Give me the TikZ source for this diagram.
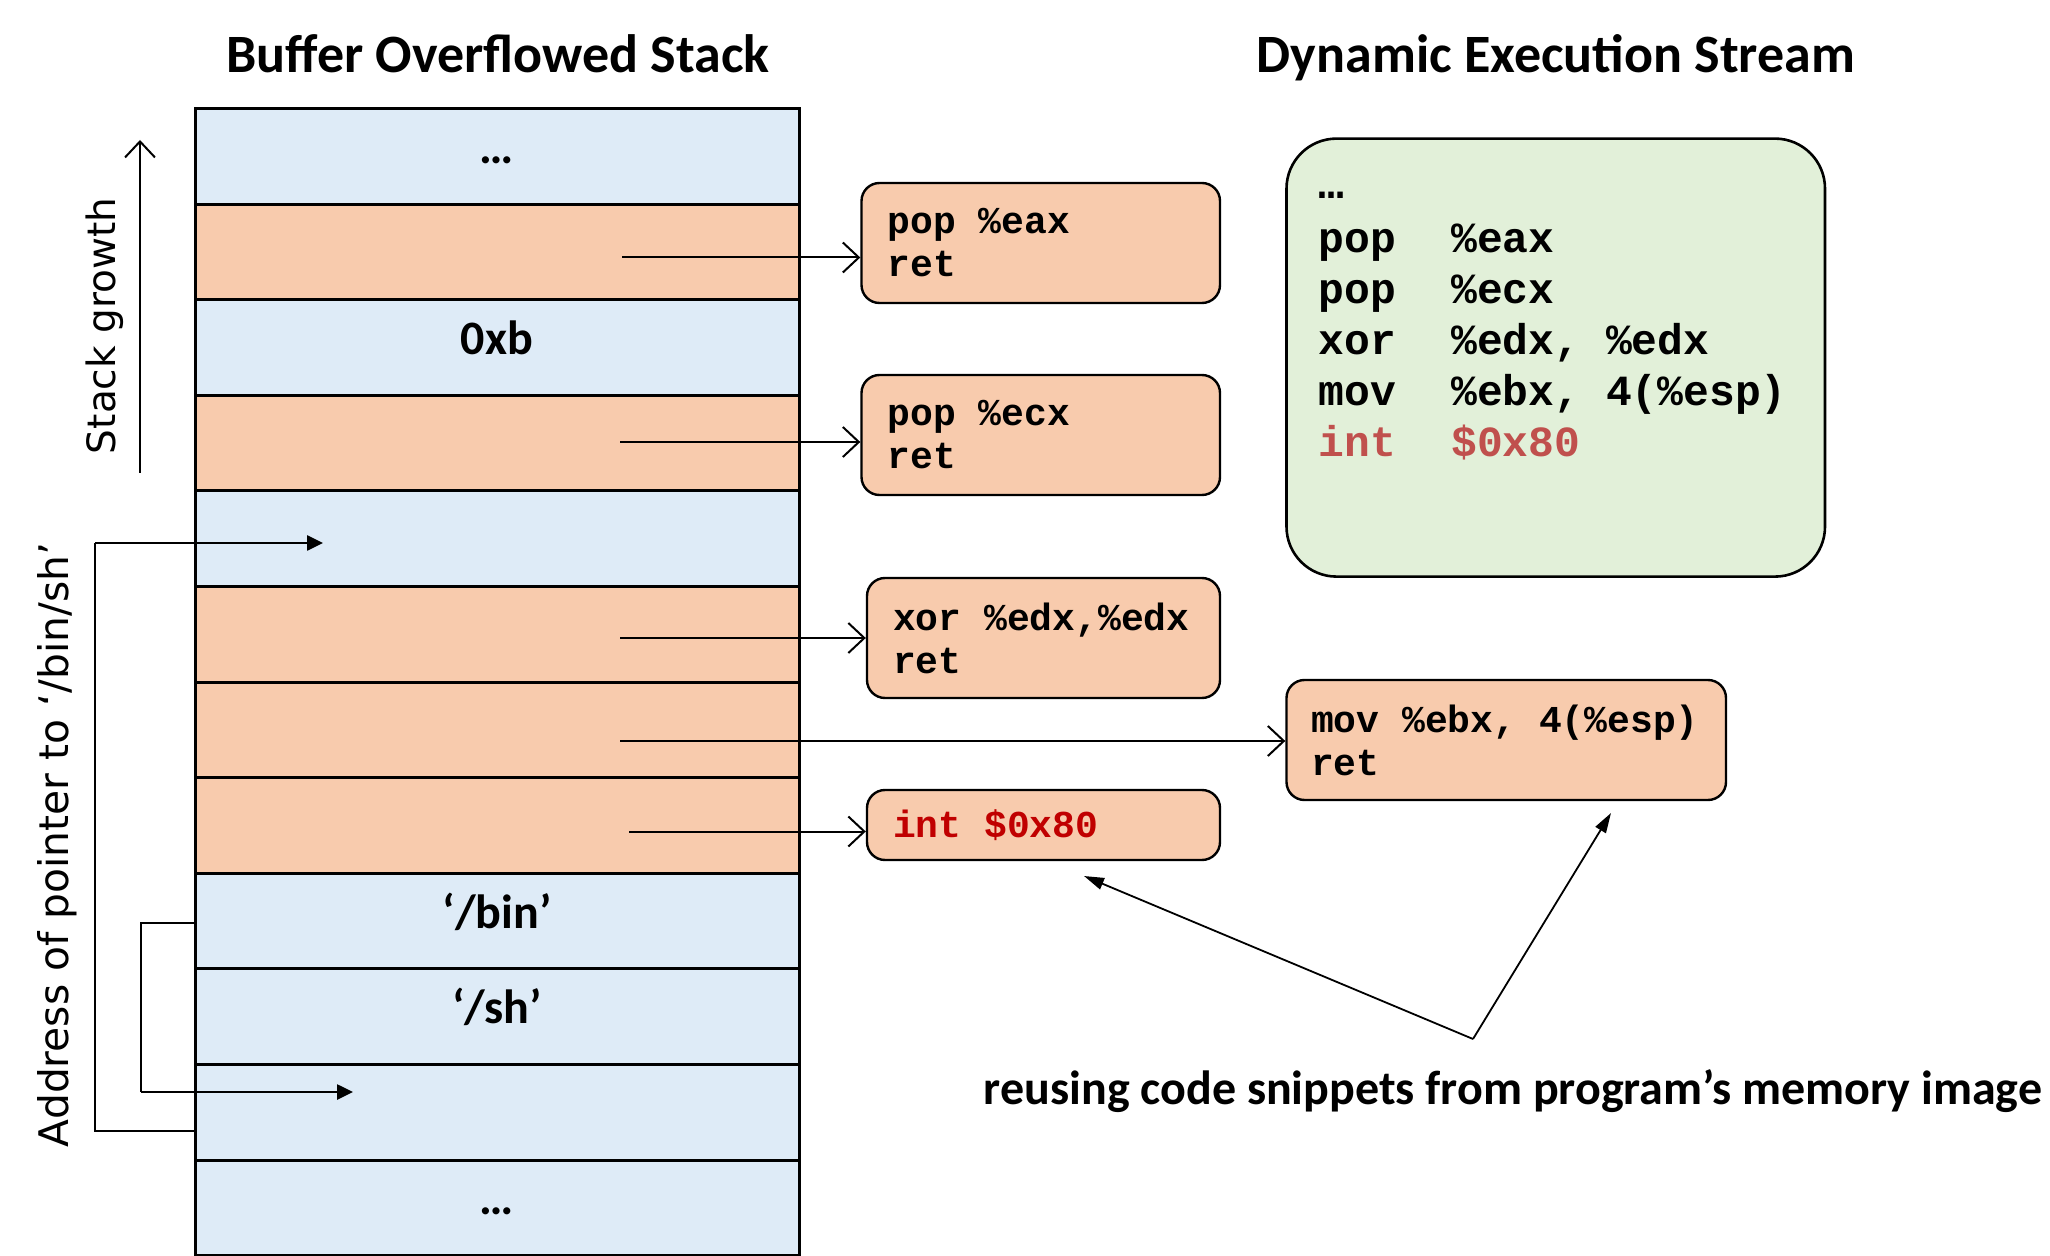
\documentclass[tikz,border=0pt]{standalone}
\usepackage{fontspec}
\setmainfont{Carlito}
\newfontfamily\monof{Liberation Mono}
\newfontfamily\verdf{DejaVu Sans}
\usetikzlibrary{arrows.meta}
\definecolor{stkblue}{HTML}{DEEBF7}
\definecolor{stkorange}{HTML}{F8CBAD}
\definecolor{stkgreen}{HTML}{E2F0D9}
\definecolor{redA}{HTML}{C00000}
\definecolor{redB}{HTML}{C0504D}
\newcommand\msp{\hspace{0.6em}}
\newcommand\mnem[1]{\makebox[66.5pt][l]{#1}}
\tikzset{
  cell/.style={draw, line width=1.5pt, minimum width=302pt, minimum height=47.8pt, inner sep=0pt,
    text height=12pt, text depth=5pt, font=\bfseries\fontsize{24}{28}\selectfont},
  gadget/.style={draw, fill=stkorange, rounded corners=9pt, line width=1.2pt, align=left,
    inner xsep=13pt, inner ysep=0pt, font=\monof\bfseries\fontsize{19}{21.5}\selectfont},
  greenbox/.style={draw, fill=stkgreen, rounded corners=25pt, line width=1.3pt,
    minimum width=269.25pt, minimum height=219pt},
  codeline/.style={anchor=west, inner sep=0pt, text height=15pt, text depth=4.5pt,
    font=\monof\bfseries\fontsize{21.5}{25}\selectfont},
  title/.style={anchor=base, font=\bfseries\fontsize{27}{32}\selectfont},
  sidelabel/.style={font=\verdf\fontsize{19.5}{23}\selectfont, rotate=90},
  barb/.style={line width=1pt, -{Straight Barb[length=8pt,width=15pt]}},
  thinline/.style={line width=0.7pt},
  ptrarrow/.style={line width=1.3pt, -{Triangle[length=8pt,width=7.5pt]}},
  callout/.style={line width=0.9pt, -{Triangle[length=10pt,width=6pt]}}
}
\begin{document}
\begin{tikzpicture}[x=0.5pt,y=-0.5pt]
\useasboundingbox (0,0) rectangle (2050,1256);

% titles
\node[title] (t1) at (498,73) {Buffer Overflowed Stack};
\node[title] (t2) at (1556,73) {Dynamic Execution Stream};

% stack
\foreach \i/\c/\t in {0/stkblue/{\ldots}, 1/stkorange/{}, 2/stkblue/{0xb}, 3/stkorange/{}, 4/stkblue/{},
  5/stkorange/{}, 6/stkorange/{}, 7/stkorange/{}, 8/stkblue/{‘/bin’}, 9/stkblue/{‘/sh’}, 10/stkblue/{}, 11/stkblue/{\ldots}}
  \node[cell, fill=\c] (r\i) at (497,{156.3+95.6*\i}) {\t};

% stack growth
\coordinate (sg1) at (140,473);
\coordinate (sg2) at (140,140);
\draw[barb] (sg1) -- (sg2);
\node[sidelabel] (sgl) at (105,326) {Stack growth};
\node[sidelabel, font=\verdf\fontsize{20.4}{24}\selectfont] (adl) at (57,845) {Address of pointer to ‘/bin/sh’};

% gadgets
\node[gadget, text width=153.25pt, minimum height=60pt] (b1) at (1040.75,243) {pop\msp\%eax\\ret};
\node[gadget, text width=153.25pt, minimum height=60pt] (b2) at (1040.75,435) {pop\msp\%ecx\\ret};
\node[gadget, text width=150.5pt, minimum height=60pt] (b3) at (1043.5,638) {xor\msp\%edx,\%edx\\ret};
\node[gadget, text width=195.25pt, inner xsep=12.25pt, minimum height=60pt] (b4) at (1506.25,740) {mov\msp\%ebx,\msp4(\%esp)\\ret};
\node[gadget, text width=150.5pt, minimum height=35pt] (b5) at (1043.5,825) {\textcolor{redA}{int\msp\$0x80}};

% arrows from stack to gadgets
\coordinate (a1) at (622,257.5);
\coordinate (a3) at (620,442);
\coordinate (a5) at (620,638);
\coordinate (a6) at (620,741);
\coordinate (a7) at (629,831.5);
\draw[barb] (a1) -- (a1 -| b1.west);
\draw[barb] (a3) -- (a3 -| b2.west);
\draw[barb] (a5) -- (a5 -| b3.west);
\draw[barb] (a6) -- (a6 -| b4.west);
\draw[barb] (a7) -- (a7 -| b5.west);

% green execution stream
\node[greenbox] (g) at (1555.75,357.6) {};
\node[codeline] (g0) at (1318,188) {…};
\node[codeline] (g1) at (1318,242) {\mnem{pop}\%eax};
\node[codeline] (g2) at (1318,293) {\mnem{pop}\%ecx};
\node[codeline] (g3) at (1318,344) {\mnem{xor}\%edx,\msp\%edx};
\node[codeline] (g4) at (1318,395) {\mnem{mov}\%ebx,\msp4(\%esp)};
\node[codeline, text=redB] (g5) at (1318,446) {\mnem{int}\$0x80};

% pointer brackets
\coordinate (ob) at (195,1131);
\coordinate (oc) at (95,1131);
\coordinate (ot) at (95,543);
\coordinate (oe) at (323,543);
\draw[thinline] (ob) -- (oc) -- (ot);
\draw[ptrarrow] (ot) -- (oe);
\coordinate (ib) at (195,923);
\coordinate (ic) at (141,923);
\coordinate (it) at (141,1092);
\coordinate (ie) at (353,1092);
\draw[thinline] (ib) -- (ic) -- (it);
\draw[ptrarrow] (it) -- (ie);

% bottom label
\node[font=\bfseries\fontsize{24}{28}\selectfont] (lbl) at (1513,1091) {reusing code snippets from program’s memory image};
\coordinate (apex) at (1473,1039);
\coordinate (e1) at (1084,876);
\coordinate (e2) at (1611,813);
\draw[callout] (apex) -- (e1);
\draw[callout] (apex) -- (e2);
\end{tikzpicture}
\end{document}
